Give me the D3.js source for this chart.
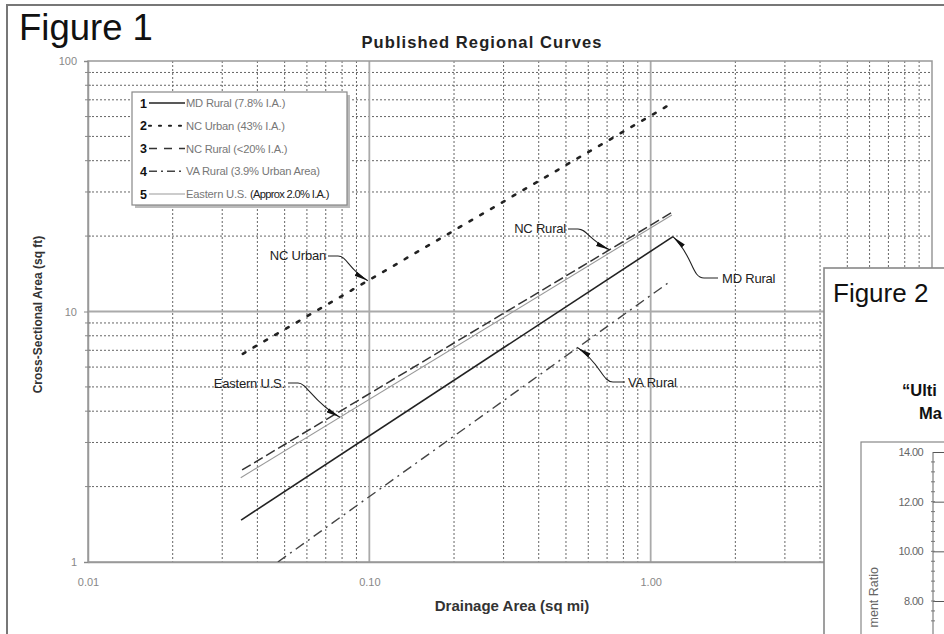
<!DOCTYPE html>
<html><head><meta charset="utf-8">
<script src="https://cdn.jsdelivr.net/npm/d3@7"></script>
<style>body{margin:0;background:#fff;overflow:hidden} svg{display:block;font-family:"Liberation Sans",Arial,sans-serif}</style>
</head><body><svg id="c" width="944" height="634"></svg>
<script>
// ---- data ----
const seriesNames = ["MD Rural", "NC Urban", "NC Rural", "VA Rural", "Eastern U.S."];
const legendLabels = ["MD Rural (7.8% I.A.)", "NC Urban (43% I.A.)", "NC Rural (<20% I.A.)", "VA Rural (3.9% Urban Area)", "Eastern U.S. "];
const legendExtra = ["", "", "", "", "(Approx 2.0% I.A.)"];
// endpoints [drainage area (sq mi), cross-sectional area (sq ft)]
const mdRural   = [[0.035, 1.47], [1.2, 19.9]];
const ncUrban   = [[0.0355, 6.78], [1.15, 66.3]];
const ncRural   = [[0.0353, 2.33], [1.2, 25.0]];
const vaRural   = [[0.0473, 1.0], [1.17, 13.15]];
const easternUS = [[0.0349, 2.17], [1.19, 24.3]];
const xTickValues = [0.01, 0.1, 1];
const xTickLabels = ["0.01", "0.10", "1.00"];
const yTickValues = [1, 10, 100];
const yTickLabels = ["1", "10", "100"];
// annotation anchor along each curve (drainage area of arrow tip)
const annotTipX = [1.2, 0.0988, 0.715, 0.55, 0.0786];
// Figure 2 (inset, mostly off-page; only visible fragments)
const fig2Title = ["\u201CUlti", "Ma"];
const fig2YLabel = "ment Ratio";
const fig2Ticks = [14, 12, 10, 8];
const fig2TickLabels = ["14.00", "12.00", "10.00", "8.00"];

const seriesData = [mdRural, ncUrban, ncRural, vaRural, easternUS];

// ---- styles / layout ----
const styles = [
  {stroke: "#222", width: 1.6, dash: null, cap: "butt"},
  {stroke: "#222", width: 2.6, dash: "3,9.5", cap: "round"},
  {stroke: "#333", width: 1.5, dash: "10,4", cap: "butt"},
  {stroke: "#444", width: 1.4, dash: "10,5,2,5", cap: "butt"},
  {stroke: "#999", width: 1.1, dash: null, cap: "butt"}
];
const L = 88, R = 932, T = 61, B = 562;
const svg = d3.select("#c");
const x = d3.scaleLog().domain([0.01, 10]).range([L, R]);
const y = d3.scaleLog().domain([1, 100]).range([B, T]);

// outer Figure 1 frame
svg.append("rect").attr("x", 7).attr("y", 5).attr("width", 960).attr("height", 660)
  .attr("fill", "none").attr("stroke", "#777").attr("stroke-width", 2);
svg.append("text").attr("x", 19).attr("y", 40).attr("font-size", 36.5).attr("fill", "#111").text("Figure 1");
svg.append("text").attr("x", 482).attr("y", 48).attr("text-anchor", "middle")
  .attr("font-size", 16.5).attr("font-weight", "bold").attr("letter-spacing", 1.1).attr("fill", "#222")
  .text("Published Regional Curves");

// grid
const g = svg.append("g");
const xMinor = [], yMinor = [];
[0.01, 0.1, 1].forEach(d => { for (let k = 2; k <= 9; k++) xMinor.push(+(d * k).toPrecision(3)); });
[1, 10].forEach(d => { for (let k = 2; k <= 9; k++) yMinor.push(+(d * k).toPrecision(3)); });
g.selectAll(".vx").data(xMinor).join("line")
  .attr("x1", d => x(d)).attr("x2", d => x(d)).attr("y1", T).attr("y2", B)
  .attr("stroke", "#666").attr("stroke-width", 1).attr("stroke-dasharray", "2,2");
g.selectAll(".hy").data(yMinor).join("line")
  .attr("y1", d => y(d)).attr("y2", d => y(d)).attr("x1", L).attr("x2", R)
  .attr("stroke", "#666").attr("stroke-width", 1).attr("stroke-dasharray", "2,2");
g.selectAll(".vmaj").data([0.1, 1]).join("line")
  .attr("x1", d => x(d)).attr("x2", d => x(d)).attr("y1", T).attr("y2", B)
  .attr("stroke", "#aaa").attr("stroke-width", 1.8);
g.selectAll(".hmaj").data([10]).join("line")
  .attr("y1", d => y(d)).attr("y2", d => y(d)).attr("x1", L).attr("x2", R)
  .attr("stroke", "#aaa").attr("stroke-width", 1.8);
svg.append("rect").attr("x", L).attr("y", T).attr("width", R - L).attr("height", B - T)
  .attr("fill", "none").attr("stroke", "#999").attr("stroke-width", 1.5);

// axes
const yAxis = d3.axisLeft(y).tickValues(yTickValues).tickFormat((d, i) => yTickLabels[i]).tickSize(4).tickPadding(7);
const ya = svg.append("g").attr("transform", `translate(${L},0)`).call(yAxis);
const xAxis = d3.axisBottom(x).tickValues(xTickValues).tickFormat((d, i) => xTickLabels[i]).tickSize(0).tickPadding(16);
const xa = svg.append("g").attr("transform", `translate(0,${B})`).call(xAxis);
[ya, xa].forEach(a => {
  a.select(".domain").attr("stroke", "#999").attr("stroke-width", 1.5);
  a.selectAll(".tick line").attr("stroke", "#888");
  a.selectAll("text").attr("fill", "#888").attr("font-size", 11).attr("font-family", "Liberation Sans, Arial");
});
svg.append("g").selectAll("line").data(yMinor).join("line")
  .attr("x1", L - 3).attr("x2", L + 3).attr("y1", d => y(d)).attr("y2", d => y(d)).attr("stroke", "#888");

svg.append("text").attr("transform", `translate(42,${(T + B) / 2 + 3}) rotate(-90)`).attr("text-anchor", "middle")
  .attr("font-size", 12).attr("font-weight", "bold").attr("fill", "#333").text("Cross-Sectional Area (sq ft)");
svg.append("text").attr("x", 512).attr("y", 611).attr("text-anchor", "middle")
  .attr("font-size", 15).attr("font-weight", "bold").attr("fill", "#333").text("Drainage Area (sq mi)");

// curves
svg.append("clipPath").attr("id", "pc").append("rect").attr("x", L).attr("y", T).attr("width", R - L).attr("height", B - T);
const line = d3.line().x(d => x(d[0])).y(d => y(d[1]));
svg.append("g").attr("clip-path", "url(#pc)").selectAll("path").data(seriesData).join("path")
  .attr("d", line).attr("fill", "none")
  .attr("stroke", (d, i) => styles[i].stroke).attr("stroke-width", (d, i) => styles[i].width)
  .attr("stroke-dasharray", (d, i) => styles[i].dash).attr("stroke-linecap", (d, i) => styles[i].cap);

// annotations
const defs = svg.append("defs");
defs.append("marker").attr("id", "ar").attr("viewBox", "0 -3 14 6").attr("refX", 14).attr("refY", 0)
  .attr("markerWidth", 14).attr("markerHeight", 6).attr("markerUnits", "userSpaceOnUse").attr("orient", "auto")
  .append("path").attr("d", "M0,-2.3L14,0L0,2.3Z").attr("fill", "#111");
function yOn(s, xv) {
  const [[x0, y0], [x1, y1]] = seriesData[s];
  const b = Math.log(y1 / y0) / Math.log(x1 / x0);
  return y0 * Math.pow(xv / x0, b);
}
// label placement: [text x, text baseline, anchor, leader start x, leader start y, horizontal run]
const annotLayout = [
  [722, 283, "start", 718, 278, -14],
  [326, 260, "end", 328, 256, 10],
  [566, 233, "end", 568, 229, 10],
  [628, 387, "start", 625, 382, -12],
  [285, 388, "end", 288, 383, 10]
];
seriesNames.forEach((name, i) => {
  const [tx, ty, anc, sx, sy, run] = annotLayout[i];
  svg.append("text").attr("x", tx).attr("y", ty).attr("text-anchor", anc)
    .attr("font-size", 13).attr("fill", "#222").attr("letter-spacing", -0.2).text(name);
  const px = x(annotTipX[i]), py = y(yOn(i, annotTipX[i]));
  const hx = sx + run;
  const p = d3.path();
  p.moveTo(sx, sy); p.lineTo(hx, sy);
  p.bezierCurveTo(hx + run * 0.9, sy, hx + (px - hx) * 0.35, sy + (py - sy) * 0.55, px, py);
  svg.append("path").attr("d", p.toString()).attr("fill", "none").attr("stroke", "#222")
    .attr("stroke-width", 1.1).attr("marker-end", "url(#ar)");
});

// legend
const lg = svg.append("g");
lg.append("rect").attr("x", 135).attr("y", 95).attr("width", 215).attr("height", 113).attr("fill", "#bbb");
lg.append("rect").attr("x", 132).attr("y", 92).attr("width", 215).attr("height", 113)
  .attr("fill", "#fff").attr("stroke", "#888").attr("stroke-width", 1.2);
const ly = d3.scalePoint().domain(d3.range(seriesNames.length)).range([103, 194]);
seriesNames.forEach((n, i) => {
  const yy = ly(i);
  lg.append("text").attr("x", 140).attr("y", yy + 4.5).attr("font-size", 12.5).attr("font-weight", "bold")
    .attr("fill", "#111").text(i + 1);
  lg.append("line").attr("x1", 149).attr("x2", 185).attr("y1", yy).attr("y2", yy)
    .attr("stroke", styles[i].stroke).attr("stroke-width", Math.min(styles[i].width, 2.2))
    .attr("stroke-dasharray", i === 1 ? "2,8" : i === 3 ? "8,4,2,4" : i === 2 ? "8,7" : styles[i].dash)
    .attr("stroke-linecap", styles[i].cap);
  const t = lg.append("text").attr("x", 186).attr("y", yy + 4).attr("font-size", 11.2).attr("fill", "#777")
    .attr("letter-spacing", -0.2);
  t.append("tspan").text(legendLabels[i]);
  if (legendExtra[i]) t.append("tspan").attr("fill", "#222").attr("letter-spacing", -0.7).text(legendExtra[i]);
});

// Figure 2 inset (overlapping, cut off by the page)
const f2 = svg.append("g");
f2.append("rect").attr("x", 824).attr("y", 268).attr("width", 200).attr("height", 400)
  .attr("fill", "#fff").attr("stroke", "#888").attr("stroke-width", 1.6);
f2.append("text").attr("x", 833).attr("y", 302).attr("font-size", 26).attr("fill", "#111").text("Figure 2");
f2.append("text").attr("x", 902).attr("y", 396).attr("font-size", 16.5).attr("font-weight", "bold").attr("fill", "#111")
  .text(fig2Title[0]);
f2.append("text").attr("x", 919).attr("y", 419).attr("font-size", 16.5).attr("font-weight", "bold").attr("fill", "#111")
  .text(fig2Title[1]);
f2.append("rect").attr("x", 861).attr("y", 442).attr("width", 200).attr("height", 300)
  .attr("fill", "none").attr("stroke", "#888").attr("stroke-width", 1.2);
const y2 = d3.scaleLinear().domain([14, 8]).range([452, 601]);
const ax2 = f2.append("g").attr("transform", "translate(933,0)")
  .call(d3.axisLeft(y2).tickValues(fig2Ticks).tickFormat((d, i) => fig2TickLabels[i]).tickSize(6).tickPadding(4));
ax2.select(".domain").remove();
ax2.selectAll(".tick line").attr("x2", 12).attr("stroke", "#555");
ax2.selectAll("text").attr("fill", "#666").attr("font-size", 11).attr("letter-spacing", -0.6);
f2.append("line").attr("x1", 933).attr("x2", 933).attr("y1", 452).attr("y2", 640).attr("stroke", "#666");
f2.append("g").selectAll("line").data(d3.range(7.2, 14, 0.4)).join("line")
  .attr("x1", 931).attr("x2", 935).attr("y1", d => y2(d)).attr("y2", d => y2(d)).attr("stroke", "#777");
f2.append("text").attr("transform", "translate(878,567) rotate(-90)").attr("text-anchor", "end")
  .attr("font-size", 12.5).attr("fill", "#666").text(fig2YLabel);
</script></body></html>
